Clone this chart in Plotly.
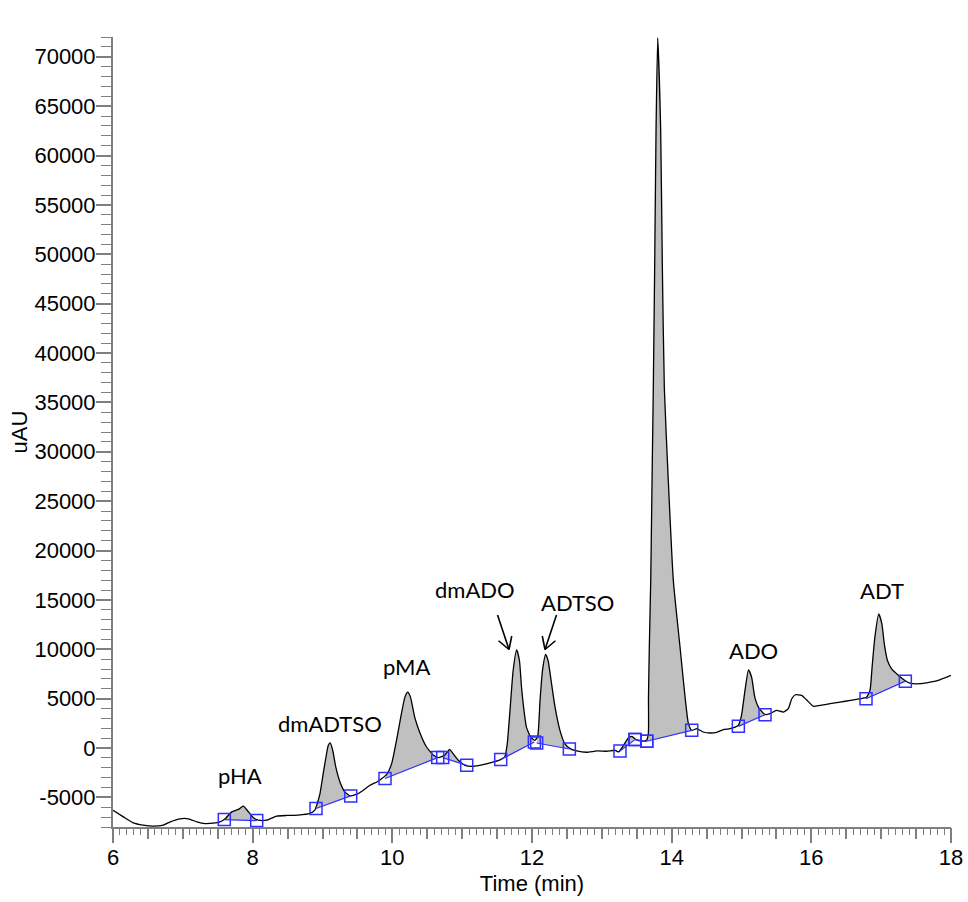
import plotly.graph_objects as go

# ---------------- data ----------------
time_min = [6.00, 6.148, 6.29, 6.43, 6.58, 6.72, 6.82, 6.96, 7.08, 7.20, 7.29, 7.39, 7.51,
            7.594, 7.70, 7.795, 7.866, 7.94, 8.01, 8.08, 8.20, 8.344, 8.49, 8.65, 8.82,
            8.89, 8.917, 8.964, 9.01, 9.05, 9.083, 9.11, 9.146, 9.19, 9.25, 9.32, 9.40,
            9.49, 9.585, 9.68, 9.78, 9.85, 9.92, 9.99, 10.06, 10.13, 10.18, 10.22, 10.26,
            10.32, 10.40, 10.49, 10.59, 10.66, 10.75, 10.82, 10.87, 10.945, 11.04, 11.16,
            11.30, 11.45, 11.55, 11.61, 11.646, 11.685, 11.73, 11.78, 11.82, 11.85, 11.885,
            11.92, 11.98, 12.04, 12.08, 12.115, 12.15, 12.195, 12.23, 12.28, 12.33, 12.40,
            12.47, 12.545, 12.64, 12.78, 12.93, 13.07, 13.19, 13.24, 13.31, 13.38, 13.43,
            13.49, 13.57, 13.64, 13.666, 13.668, 13.680, 13.700, 13.719, 13.737, 13.757,
            13.776, 13.800, 13.843, 13.866, 13.895, 13.952, 14.024, 14.120, 14.192, 14.239,
            14.287, 14.36, 14.45, 14.55, 14.645, 14.74, 14.835, 14.91, 14.955, 15.00, 15.05,
            15.10, 15.145, 15.19, 15.255, 15.335, 15.41, 15.50, 15.60, 15.67, 15.72, 15.77,
            15.86, 15.93, 16.03, 16.125, 16.27, 16.41, 16.56, 16.70, 16.79, 16.84, 16.87,
            16.91, 16.965, 17.01, 17.045, 17.09, 17.15, 17.25, 17.34, 17.41, 17.56, 17.70,
            17.84, 18.00]
signal_uau = [-6300, -6970, -7580, -7810, -7910, -7810, -7480, -7170, -7170, -7480, -7640, -7640, -7540,
              -7240, -6470, -6220, -5890, -6470, -7070, -7310, -7310, -6900, -6830, -6800, -6630,
              -6300, -5790, -4610, -2590, -910, 270, 510, -230, -1920, -3440, -4450, -4850,
              -4680, -4270, -3770, -3440, -3090, -2660, -1580, 780, 3480, 5150, 5660, 5150,
              3130, 1450, 100, -740, -970, -740, -130, -570, -1240, -1750, -1850,
              -1680, -1410, -1170, -910, 440, 3810, 7850, 9940, 8860, 6160, 3810,
              2120, 1110, 780, 1110, 4820, 7850, 9470, 8860, 6510, 4140, 1790,
              440, -60, -300, -430, -300, -330, -230, -400, 270, 1010, 1180,
              850, 710, 780, 1450, 5150, 10200, 16950, 27050, 36450, 49000,
              62400, 71900, 62400, 49000, 36450, 27050, 16950, 10200, 5150, 2500,
              1790, 1960, 1620, 1520, 1590, 1860, 1960, 2120, 2290, 3300, 5830,
              7920, 7170, 5150, 3980, 3400, 3480, 3810, 3640, 3980, 4990, 5390,
              5330, 4890, 4210, 4310, 4490, 4650, 4820, 4990, 5150, 5830, 8190,
              11220, 13580, 12570, 10550, 8860, 8020, 7350, 6840, 6570, 6510, 6670,
              6910, 7350]

# integration baselines (start / end of each integrated peak)
base_start_t = [7.594, 8.907, 9.895, 10.721, 11.552, 12.067, 13.26, 13.475, 13.643, 14.955, 16.783]
base_start_v = [-7250, -6120, -3090, -970, -1170, 505, -300, 850, 680, 2190, 4990]
base_end_t = [8.058, 9.404, 10.650, 11.065, 12.034, 12.535, 13.475, 13.643, 14.287, 15.337, 17.346]
base_end_v = [-7350, -4850, -970, -1750, 606, -100, 850, 680, 1790, 3370, 6770]

# peak labels
peak_names = ["pHA", "dmADTSO", "pMA", "dmADO", "ADTSO", "dmADT", "ADO", "ADT"]
peak_label_t = [7.82, 9.11, 10.20, 11.18, 12.645, 13.82, 15.165, 17.01]
peak_label_v = [-2760, 2500, 8260, 16040, 14720, 73530, 9870, 15940]

# arrows (head positions) for the crowded labels
arrow_names = ["dmADO", "ADTSO"]
arrow_head_t = [11.671, 12.186]
arrow_head_v = [9974, 9974]

# axis ticks
x_tick_vals = [6, 6.5, 7, 7.5, 8, 8.5, 9, 9.5, 10, 10.5, 11, 11.5, 12, 12.5, 13, 13.5,
               14, 14.5, 15, 15.5, 16, 16.5, 17, 17.5, 18]
x_label_vals = [6, 8, 10, 12, 14, 16, 18]
x_label_text = ["6", "8", "10", "12", "14", "16", "18"]
y_tick_vals = [-5000, 0, 5000, 10000, 15000, 20000, 25000, 30000, 35000, 40000, 45000,
               50000, 55000, 60000, 65000, 70000]
y_tick_text = ["-5000", "0", "5000", "10000", "15000", "20000", "25000", "30000", "35000",
               "40000", "45000", "50000", "55000", "60000", "65000", "70000"]

# ---------------- figure ----------------
BLUE = "#2f2fff"
AXIS = "#7f7f7f"
SMOOTH = 0.5
fig = go.Figure()

# gray filled peak areas
for t0, v0, t1, v1 in zip(base_start_t, base_start_v, base_end_t, base_end_v):
    px = [t0]
    py = [v0]
    for t, v in zip(time_min, signal_uau):
        if t0 < t < t1:
            px.append(t)
            py.append(v)
    px.append(t1)
    py.append(v1)
    fig.add_trace(go.Scatter(x=px, y=py, mode="lines", fill="toself",
                             fillcolor="#c0c0c0",
                             line=dict(width=0, color="#c0c0c0", shape="spline",
                                       smoothing=SMOOTH),
                             hoverinfo="skip"))

# chromatogram trace
fig.add_trace(go.Scatter(x=time_min, y=signal_uau, mode="lines",
                         line=dict(color="black", width=1.3, shape="spline",
                                   smoothing=SMOOTH)))

# baselines
bx, by = [], []
for t0, v0, t1, v1 in zip(base_start_t, base_start_v, base_end_t, base_end_v):
    bx += [t0, t1, None]
    by += [v0, v1, None]
fig.add_trace(go.Scatter(x=bx, y=by, mode="lines", line=dict(color=BLUE, width=1.2)))
fig.add_trace(go.Scatter(x=base_start_t + base_end_t, y=base_start_v + base_end_v,
                         mode="markers",
                         marker=dict(symbol="square-open", size=12,
                                     line=dict(color=BLUE, width=1.5), color=BLUE)))

# invisible trace for the long-tick overlay axis
fig.add_trace(go.Scatter(x=[6, 18], y=[0, 0], xaxis="x2", mode="markers",
                         marker=dict(opacity=0), hoverinfo="skip"))

# peak labels
for name, t, v in zip(peak_names, peak_label_t, peak_label_v):
    fig.add_annotation(x=t, y=v, text=name, showarrow=False,
                       font=dict(family="Lato", size=22, color="black"),
                       xanchor="center", yanchor="middle")

# open V arrows: shaft + two wings (offsets in pixels)
arrow_shafts = [(-12, -36), (12, -36)]
arrow_wings = [[(-12, -10), (3, -15)], [(12, -10), (-3, -15)]]
for t, v, shaft, wings in zip(arrow_head_t, arrow_head_v, arrow_shafts, arrow_wings):
    for dx, dy in [shaft] + wings:
        fig.add_annotation(x=t, y=v, ax=dx, ay=dy, text="", showarrow=True,
                           arrowhead=0, arrowwidth=1.6, arrowcolor="black",
                           standoff=0, startstandoff=0)

fig.update_layout(
    width=968, height=902,
    margin=dict(l=113, r=17, t=37, b=75),
    paper_bgcolor="white", plot_bgcolor="white",
    showlegend=False,
    font=dict(family="Liberation Sans, Arial, sans-serif", size=22, color="black"),
    xaxis=dict(range=[6, 18], showline=True, linecolor=AXIS, linewidth=2,
               automargin=False,
               ticks="outside", tickvals=x_tick_vals,
               ticktext=[x_label_text[x_label_vals.index(v)] if v in x_label_vals else ""
                         for v in x_tick_vals],
               ticklen=10, tickwidth=1.5, tickcolor=AXIS,
               minor=dict(dtick=0.1, tick0=6, ticks="outside", ticklen=6,
                          tickwidth=1.2, tickcolor=AXIS),
               showgrid=False, zeroline=False,
               title=dict(text="Time (min)", standoff=6,
                          font=dict(size=22))),
    xaxis2=dict(range=[6, 18], overlaying="x", anchor="y", side="bottom",
                automargin=False,
                ticks="outside", tickvals=x_label_vals, ticklen=15, tickwidth=1.5,
                tickcolor=AXIS, showticklabels=False, showgrid=False, zeroline=False,
                showline=False),
    yaxis=dict(range=[-8000, 72000], showline=True, linecolor=AXIS, linewidth=2,
               automargin=False,
               ticks="outside", tickvals=y_tick_vals, ticktext=y_tick_text,
               ticklen=15, tickwidth=1.5, tickcolor=AXIS, ticklabelstandoff=-4,
               minor=dict(dtick=1000, tick0=0, ticks="outside", ticklen=10,
                          tickwidth=1.2, tickcolor=AXIS),
               showgrid=False, zeroline=False,
               title=dict(text="uAU", standoff=1, font=dict(size=22))),
)

fig.write_html("out.html")
